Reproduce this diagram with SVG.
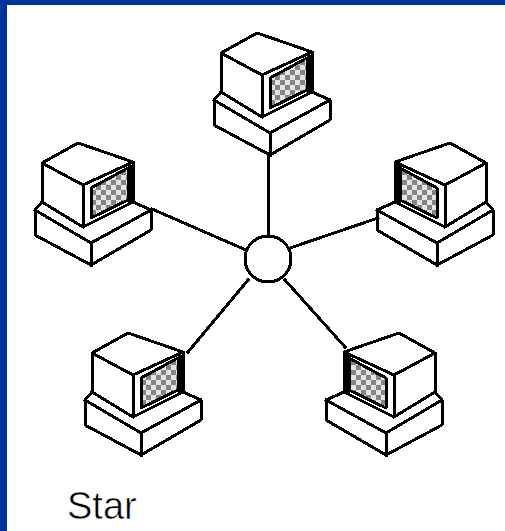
<svg xmlns="http://www.w3.org/2000/svg" width="505" height="531" viewBox="0 0 505 531">
<style>
.l{fill:none;stroke:#000;stroke-width:3;stroke-linejoin:round;stroke-linecap:square;shape-rendering:crispEdges}
.h{stroke-width:5}
.s{fill:url(#chk);stroke:none;shape-rendering:crispEdges}
.t{font-family:"Liberation Sans",Arial,sans-serif;font-size:38px;fill:#000;stroke:#fff;stroke-width:.6}
</style>
<defs>
<pattern id="chk" width="10" height="10" patternUnits="userSpaceOnUse">
<rect width="10" height="10" fill="#e4e4e4"/>
<rect width="5" height="5" fill="#858585"/>
<rect x="5" y="5" width="5" height="5" fill="#858585"/>
</pattern>
<g id="pc">
<path class="l" d="M221 53L257 33L312 52L262 75ZM221 53V92L262 117M262 75V117L312 92V52"/>
<path class="l" d="M221 92L214 100V125L270 155L330 120V100L312 92M214 100L270 133L330 100M270 133V155"/>
<path class="s" d="M270 78L307 58V90L270 108Z"/>
<path class="l" d="M270 78L307 58V90L270 108Z"/>
<path class="l h" d="M309 57V90"/>
</g>
</defs>
<rect width="505" height="531" fill="#fff"/>
<path fill="#003399" d="M0 0H505V5H7V531H0Z"/>
<g id="connectors">
<path class="l" d="M268 155V235M152 209L246 250M290 248L378 218M248 280L188 352M285 280L345 347"/>
</g>
<g id="pc-top"><use href="#pc"/></g>
<g id="pc-left"><use href="#pc" transform="translate(-179 110)"/></g>
<g id="pc-right"><use href="#pc" transform="translate(707 110) scale(-1 1)"/></g>
<g id="pc-bottom-left"><use href="#pc" transform="translate(-129 300)"/></g>
<g id="pc-bottom-right"><use href="#pc" transform="translate(656 300) scale(-1 1)"/></g>
<g id="hub"><circle class="l" cx="268" cy="259" r="23"/></g>
<text class="t" x="67" y="519">Star</text>
</svg>
